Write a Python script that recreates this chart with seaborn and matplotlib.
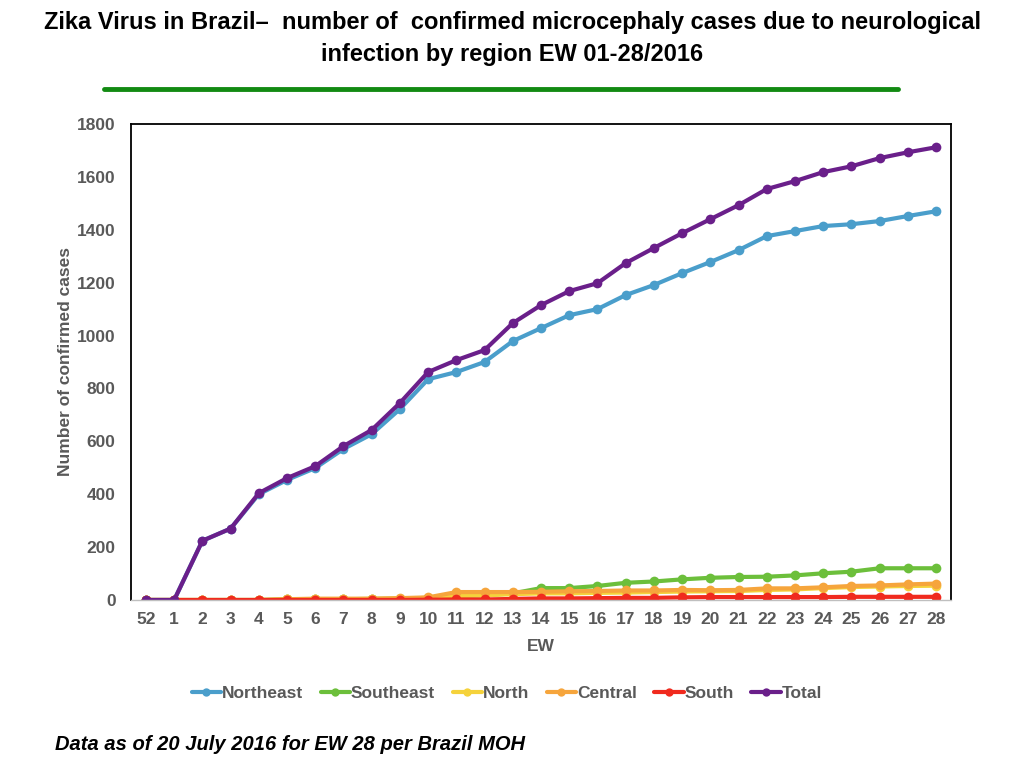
import matplotlib
matplotlib.use("Agg")
import matplotlib.pyplot as plt
import matplotlib.lines as mlines
import seaborn as sns
import pandas as pd

ew_labels = ["52", "1", "2", "3", "4", "5", "6", "7", "8", "9", "10", "11", "12", "13", "14",
             "15", "16", "17", "18", "19", "20", "21", "22", "23", "24", "25", "26", "27", "28"]

northeast = [0, 0, 224, 270, 400, 454, 499, 571, 627, 722, 835, 862, 900, 979, 1028,
             1077, 1100, 1153, 1191, 1236, 1278, 1323, 1376, 1395, 1414, 1421, 1433, 1452, 1470]
southeast = [0, 0, 0, 0, 0, 2, 3, 3, 4, 5, 8, 15, 18, 25, 45,
             45, 53, 65, 70, 78, 84, 87, 88, 93, 101, 107, 120, 120, 120]
north = [0, 0, 0, 0, 0, 2, 3, 3, 4, 5, 8, 15, 18, 22, 25,
         25, 27, 28, 30, 32, 33, 34, 38, 40, 45, 49, 51, 53, 54]
central = [0, 0, 0, 0, 0, 3, 5, 5, 5, 7, 10, 30, 30, 30, 31,
           33, 34, 36, 36, 38, 37, 38, 44, 44, 48, 53, 55, 59, 62]
south = [0, 0, 0, 0, 0, 0, 0, 0, 0, 0, 1, 2, 2, 4, 6,
         6, 7, 8, 8, 10, 11, 11, 11, 11, 11, 12, 12, 12, 12]
total = [0, 0, 224, 270, 404, 461, 506, 582, 643, 745, 862, 907, 945, 1047, 1115,
         1168, 1198, 1274, 1331, 1387, 1440, 1493, 1554, 1584, 1618, 1640, 1671, 1693, 1712]

series_names = ["Northeast", "Southeast", "North", "Central", "South", "Total"]
series_values = [northeast, southeast, north, central, south, total]
colors = ["#4A9ECB", "#6CBF3B", "#F5D23B", "#F6A53C", "#F02A1E", "#6A1F8A"]

rows = []
for name, vals in zip(series_names, series_values):
    for i, v in enumerate(vals):
        rows.append({"pos": i, "value": v, "region": name})
df = pd.DataFrame(rows)

sns.set_theme(style="white")
plt.rcParams["font.family"] = ["Liberation Sans", "DejaVu Sans"]

fig = plt.figure(figsize=(10.24, 7.68), dpi=100)
ax = fig.add_axes([131 / 1024, 1 - 600 / 768, 820 / 1024, 476 / 768])

sns.lineplot(data=df, x="pos", y="value", hue="region", hue_order=series_names,
             palette=colors, marker="o", markersize=7, markeredgewidth=0,
             linewidth=3, ax=ax, legend=False)

ax.set_xlim(-0.53, 28.53)
ax.set_ylim(0, 1800)
ax.set_xticks(range(len(ew_labels)))
ax.set_xticklabels(ew_labels)
ax.set_yticks(range(0, 1801, 200))
grey = "#595959"
ax.tick_params(axis="x", length=0, labelsize=12.5, colors=grey, pad=9)
ax.tick_params(axis="y", length=0, labelsize=12.5, colors=grey, pad=11)
for lab in ax.get_xticklabels() + ax.get_yticklabels():
    lab.set_fontweight("bold")
ax.set_xlabel("EW", fontsize=12.5, fontweight="bold", color=grey, labelpad=8)
ax.set_ylabel("Number of confirmed cases", fontsize=12.5, fontweight="bold", color=grey, labelpad=3)
for side in ["left", "top", "right"]:
    ax.spines[side].set_color("black")
    ax.spines[side].set_linewidth(1.3)
ax.spines["bottom"].set_color("#BFBFBF")
ax.spines["bottom"].set_linewidth(1.0)
ax.grid(False)

handles = [mlines.Line2D([], [], color=c, marker="o", markersize=6, markeredgewidth=0, linewidth=3)
           for c in colors]
leg = fig.legend(handles, series_names, loc="center", bbox_to_anchor=(0.495, 1 - 693 / 768),
                 ncol=6, frameon=False, handlelength=1.7, handletextpad=0.05, columnspacing=1.0,
                 prop={"size": 12.5, "weight": "bold"})
for t in leg.get_texts():
    t.set_color(grey)

fig.text(0.5, 1 - 22 / 768, "Zika Virus in Brazil\u2013  number of  confirmed microcephaly cases due to neurological",
         ha="center", va="center", fontsize=17, fontweight="bold", color="black")
fig.text(0.5, 1 - 54 / 768, "infection by region EW 01-28/2016",
         ha="center", va="center", fontsize=17, fontweight="bold", color="black")
fig.add_artist(mlines.Line2D([104 / 1024, 898 / 1024], [1 - 89 / 768, 1 - 89 / 768],
                             color="#128A12", linewidth=3.5, transform=fig.transFigure))
fig.text(55 / 1024, 1 - 744 / 768, "Data as of 20 July 2016 for EW 28 per Brazil MOH",
         ha="left", va="center", fontsize=14.5, fontweight="bold", style="italic", color="black")

fig.savefig("out.png", dpi=100)
